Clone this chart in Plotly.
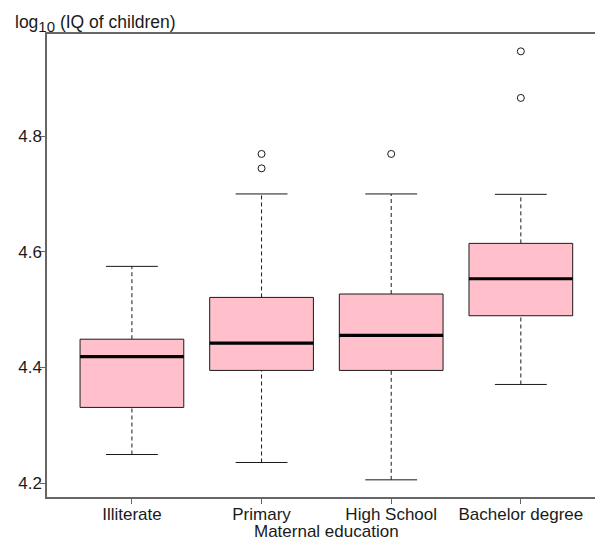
import plotly.graph_objects as go

categories = ["Illiterate", "Primary", "High School", "Bachelor degree"]
lower_whisker = [4.2495, 4.2357, 4.2057, 4.3707]
q1 = [4.331, 4.395, 4.395, 4.4896]
median = [4.419, 4.4423, 4.4555, 4.5536]
q3 = [4.449, 4.5213, 4.5272, 4.6148]
upper_whisker = [4.575, 4.7003, 4.7003, 4.6996]
outliers = [[], [4.7695, 4.7446], [4.7695], [4.947, 4.8664]]

y_ticks = [4.2, 4.4, 4.6, 4.8]

BOX_HALF = 0.4
CAP_HALF = 0.2
FONT = "Liberation Sans, Arial, sans-serif"
AXIS_COL = "#666666"
LINE_COL = "#1a1a1a"
FS = 17

fig = go.Figure()

for i, cat in enumerate(categories):
    x = i + 1
    # dashed whiskers
    for a, b in [(q3[i], upper_whisker[i]), (lower_whisker[i], q1[i])]:
        fig.add_trace(go.Scatter(x=[x, x], y=[a, b], mode="lines",
                                 line=dict(color=LINE_COL, width=1, dash="4px,3px"),
                                 hoverinfo="skip", showlegend=False))
    # caps
    for v in (upper_whisker[i], lower_whisker[i]):
        fig.add_trace(go.Scatter(x=[x - CAP_HALF, x + CAP_HALF], y=[v, v], mode="lines",
                                 line=dict(color=LINE_COL, width=1),
                                 hoverinfo="skip", showlegend=False))
    # box
    fig.add_trace(go.Scatter(
        x=[x - BOX_HALF, x + BOX_HALF, x + BOX_HALF, x - BOX_HALF, x - BOX_HALF],
        y=[q1[i], q1[i], q3[i], q3[i], q1[i]],
        mode="lines", fill="toself", fillcolor="#FFC0CB",
        line=dict(color=LINE_COL, width=1), name=cat, showlegend=False))
    # median
    fig.add_trace(go.Scatter(x=[x - BOX_HALF, x + BOX_HALF], y=[median[i], median[i]],
                             mode="lines", line=dict(color="black", width=3.2),
                             hoverinfo="skip", showlegend=False))
    # outliers
    if outliers[i]:
        fig.add_trace(go.Scatter(x=[x] * len(outliers[i]), y=outliers[i], mode="markers",
                                 marker=dict(symbol="circle-open", size=7,
                                             color=LINE_COL, line=dict(width=1)),
                                 showlegend=False))

fig.update_layout(
    width=595, height=540,
    margin=dict(l=47, r=0, t=33.5, b=42.5),
    paper_bgcolor="white", plot_bgcolor="white",
    font=dict(family=FONT, size=FS, color="#1a1a1a"),
    xaxis=dict(range=[0.345, 4.572], tickvals=[1, 2, 3, 4], ticktext=categories,
               showgrid=False, zeroline=False, showline=True, mirror=True,
               linecolor=AXIS_COL, linewidth=1.5, ticks="outside", ticklen=5,
               tickcolor=AXIS_COL, tickwidth=1, tickfont=dict(size=FS),
               ticklabelstandoff=-4),
    yaxis=dict(range=[4.176, 4.977], tickvals=y_ticks,
               ticktext=[f"{v:.1f}" for v in y_ticks],
               showgrid=False, zeroline=False, showline=True,
               linecolor=AXIS_COL, linewidth=1.5, ticks="outside", ticklen=5,
               tickcolor=AXIS_COL, tickwidth=1, tickfont=dict(size=FS),
               ticklabelstandoff=-5),
    annotations=[
        dict(text="log<sub><span style='font-size:15px'>10</span></sub> (IQ of children)",
             xref="paper", yref="paper",
             x=0, y=1, xshift=-34, yshift=-3, xanchor="left", yanchor="bottom",
             showarrow=False, font=dict(size=17.5)),
        dict(text="Maternal education", xref="x", yref="paper", x=2.5, y=0,
             yshift=-23, xanchor="center", yanchor="top", showarrow=False,
             font=dict(size=FS)),
    ],
)

fig.write_html("out.html")
